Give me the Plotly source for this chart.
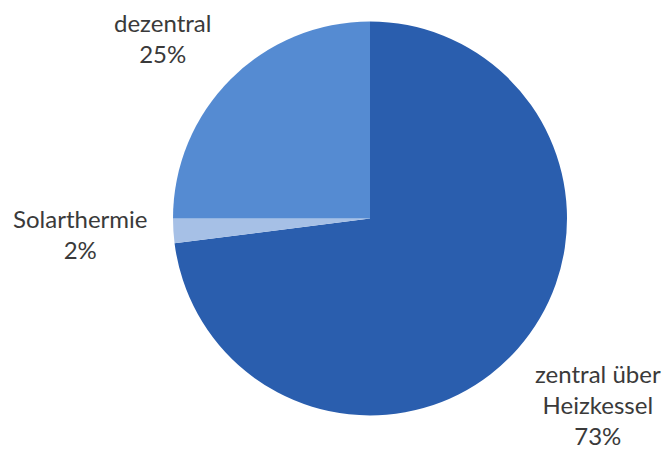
import plotly.graph_objects as go

# Anteile der Warmwasserbereitung
labels = ["zentral über Heizkessel", "Solarthermie", "dezentral"]
label_lines = ["zentral über<br>Heizkessel", "Solarthermie", "dezentral"]
shares = [73, 2, 25]
colors = ["#2A5EAE", "#A6C0E6", "#558BD2"]

W, H = 664, 449

fig = go.Figure(
    go.Pie(
        labels=labels,
        values=shares,
        sort=False,
        direction="clockwise",
        rotation=0,
        marker=dict(colors=colors, line=dict(width=0)),
        textinfo="none",
        hoverinfo="label+percent",
        showlegend=False,
        domain=dict(x=[173 / W, 567 / W], y=[1 - 416 / H, 1 - 21 / H]),
    )
)

# Beschriftungen außerhalb des Kreises (Position in Pixeln)
label_pos = [(598, 404), (80, 234), (162, 38)]
for text, val, (px, py) in zip(label_lines, shares, label_pos):
    fig.add_annotation(
        x=px / W,
        y=1 - py / H,
        xref="paper",
        yref="paper",
        xanchor="center",
        yanchor="middle",
        text=f"{text}<br>{val}%",
        showarrow=False,
        align="center",
        font=dict(family="Lato", size=24, color="#3A3A3A"),
    )

fig.update_layout(
    width=W,
    height=H,
    margin=dict(l=0, r=0, t=0, b=0),
    paper_bgcolor="white",
    plot_bgcolor="white",
)

fig.write_html("out.html")
